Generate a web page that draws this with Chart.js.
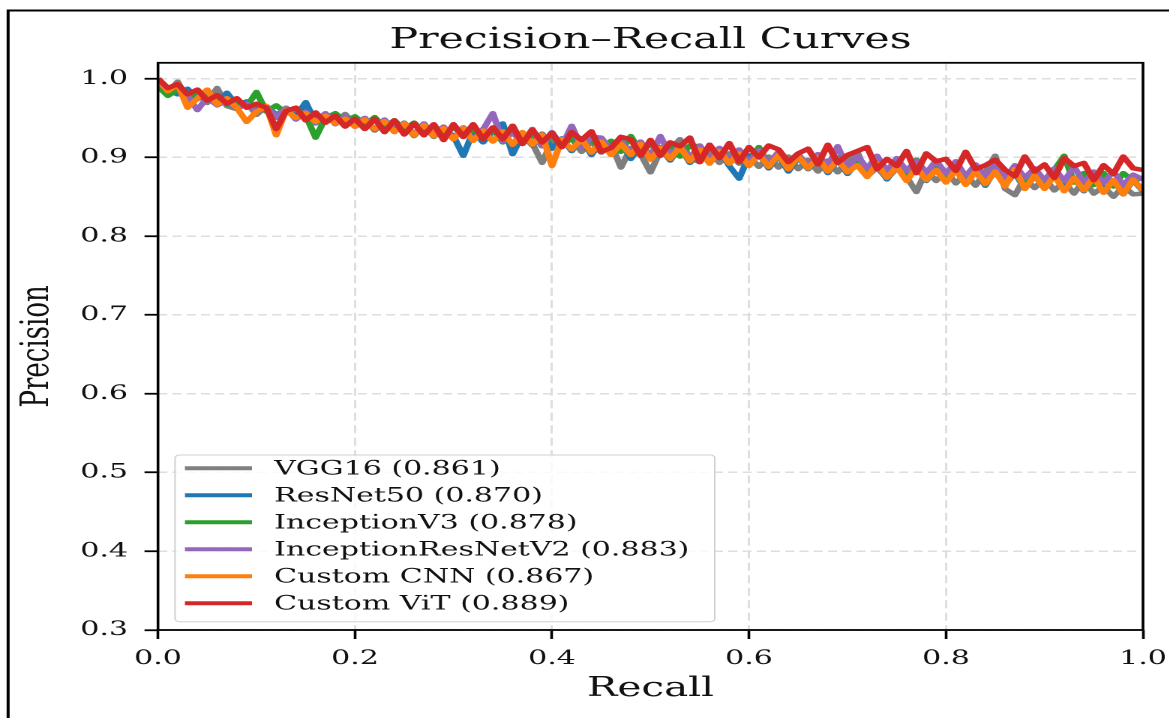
<!DOCTYPE html>
<html>
<head>
<meta charset="utf-8">
<title>Precision–Recall Curves</title>
<script src="https://cdn.jsdelivr.net/npm/chart.js@4.4.1/dist/chart.umd.min.js"></script>
<style>
  html, body { margin: 0; padding: 0; background: #fff; overflow: hidden; }
  /* figure is laid out at 780px and widened 1.5x */
  #wrap { width: 780px; height: 718px; transform: scaleX(1.5); transform-origin: 0 0; }
</style>
</head>
<body>
<div id="wrap"><canvas id="prChart"></canvas></div>
<script>
const SERIF = "'DejaVu Serif', 'Liberation Serif', serif";

const modelNames = ['VGG16', 'ResNet50', 'InceptionV3', 'InceptionResNetV2', 'Custom CNN', 'Custom ViT'];
const apScores = [0.861, 0.870, 0.878, 0.883, 0.867, 0.889];
const lineColors = ['#7f7f7f', '#1f77b4', '#2ca02c', '#9467bd', '#ff7f0e', '#d62728'];

const recallTicks = [0.0, 0.2, 0.4, 0.6, 0.8, 1.0];
const precisionTicks = [0.3, 0.4, 0.5, 0.6, 0.7, 0.8, 0.9, 1.0];

const recall = [
  0.00, 0.01, 0.02, 0.03, 0.04, 0.05, 0.06, 0.07, 0.08, 0.09,
  0.10, 0.11, 0.12, 0.13, 0.14, 0.15, 0.16, 0.17, 0.18, 0.19,
  0.20, 0.21, 0.22, 0.23, 0.24, 0.25, 0.26, 0.27, 0.28, 0.29,
  0.30, 0.31, 0.32, 0.33, 0.34, 0.35, 0.36, 0.37, 0.38, 0.39,
  0.40, 0.41, 0.42, 0.43, 0.44, 0.45, 0.46, 0.47, 0.48, 0.49,
  0.50, 0.51, 0.52, 0.53, 0.54, 0.55, 0.56, 0.57, 0.58, 0.59,
  0.60, 0.61, 0.62, 0.63, 0.64, 0.65, 0.66, 0.67, 0.68, 0.69,
  0.70, 0.71, 0.72, 0.73, 0.74, 0.75, 0.76, 0.77, 0.78, 0.79,
  0.80, 0.81, 0.82, 0.83, 0.84, 0.85, 0.86, 0.87, 0.88, 0.89,
  0.90, 0.91, 0.92, 0.93, 0.94, 0.95, 0.96, 0.97, 0.98, 0.99,
  1.00
];

const vgg16 = [
  1.000, 0.982, 0.996, 0.973, 0.982, 0.969, 0.988, 0.965, 0.961, 0.969,
  0.954, 0.965, 0.950, 0.963, 0.950, 0.960, 0.943, 0.954, 0.943, 0.955,
  0.941, 0.950, 0.934, 0.946, 0.933, 0.943, 0.927, 0.942, 0.926, 0.936,
  0.924, 0.937, 0.922, 0.936, 0.921, 0.930, 0.917, 0.930, 0.918, 0.893,
  0.921, 0.916, 0.924, 0.907, 0.920, 0.906, 0.917, 0.887, 0.912, 0.904,
  0.881, 0.908, 0.910, 0.923, 0.899, 0.894, 0.908, 0.893, 0.905, 0.892,
  0.902, 0.888, 0.901, 0.887, 0.901, 0.885, 0.897, 0.882, 0.896, 0.881,
  0.895, 0.907, 0.876, 0.887, 0.873, 0.886, 0.875, 0.856, 0.884, 0.870,
  0.883, 0.867, 0.879, 0.864, 0.881, 0.902, 0.860, 0.852, 0.874, 0.861,
  0.874, 0.858, 0.869, 0.854, 0.871, 0.854, 0.863, 0.850, 0.863, 0.853,
  0.854
];

const resnet50 = [
  0.997, 0.985, 0.980, 0.987, 0.974, 0.981, 0.969, 0.982, 0.966, 0.971,
  0.960, 0.965, 0.954, 0.961, 0.952, 0.970, 0.944, 0.953, 0.944, 0.951,
  0.939, 0.948, 0.935, 0.946, 0.934, 0.942, 0.928, 0.938, 0.927, 0.936,
  0.927, 0.902, 0.933, 0.919, 0.934, 0.943, 0.904, 0.929, 0.915, 0.930,
  0.911, 0.924, 0.908, 0.924, 0.903, 0.920, 0.904, 0.921, 0.898, 0.915,
  0.898, 0.913, 0.896, 0.913, 0.893, 0.908, 0.893, 0.910, 0.889, 0.873,
  0.902, 0.905, 0.886, 0.902, 0.882, 0.900, 0.885, 0.901, 0.880, 0.897,
  0.879, 0.894, 0.877, 0.895, 0.872, 0.890, 0.875, 0.892, 0.870, 0.885,
  0.869, 0.885, 0.866, 0.883, 0.864, 0.884, 0.865, 0.880, 0.860, 0.878,
  0.861, 0.881, 0.859, 0.874, 0.857, 0.879, 0.856, 0.871, 0.853, 0.871,
  0.857
];

const inceptionV3 = [
  0.990, 0.978, 0.986, 0.976, 0.983, 0.972, 0.978, 0.967, 0.972, 0.964,
  0.983, 0.958, 0.966, 0.956, 0.962, 0.953, 0.925, 0.950, 0.956, 0.946,
  0.952, 0.941, 0.951, 0.938, 0.947, 0.935, 0.944, 0.932, 0.941, 0.928,
  0.939, 0.926, 0.936, 0.923, 0.935, 0.919, 0.940, 0.918, 0.930, 0.914,
  0.928, 0.914, 0.925, 0.912, 0.924, 0.908, 0.921, 0.907, 0.927, 0.907,
  0.917, 0.903, 0.916, 0.901, 0.915, 0.914, 0.898, 0.909, 0.894, 0.908,
  0.893, 0.913, 0.890, 0.904, 0.890, 0.904, 0.887, 0.901, 0.886, 0.900,
  0.886, 0.899, 0.883, 0.899, 0.884, 0.896, 0.880, 0.897, 0.880, 0.892,
  0.877, 0.891, 0.875, 0.889, 0.875, 0.889, 0.871, 0.887, 0.871, 0.884,
  0.869, 0.884, 0.902, 0.868, 0.880, 0.865, 0.880, 0.863, 0.880, 0.870,
  0.874
];

const inceptionResNetV2 = [
  0.995, 0.985, 0.990, 0.978, 0.960, 0.976, 0.966, 0.972, 0.962, 0.968,
  0.958, 0.964, 0.952, 0.962, 0.948, 0.958, 0.944, 0.956, 0.942, 0.952,
  0.939, 0.950, 0.935, 0.948, 0.934, 0.944, 0.929, 0.943, 0.928, 0.939,
  0.923, 0.938, 0.922, 0.935, 0.956, 0.920, 0.932, 0.917, 0.936, 0.914,
  0.932, 0.914, 0.940, 0.912, 0.926, 0.925, 0.909, 0.921, 0.905, 0.920,
  0.901, 0.927, 0.903, 0.915, 0.899, 0.915, 0.898, 0.912, 0.894, 0.910,
  0.893, 0.909, 0.892, 0.907, 0.888, 0.904, 0.888, 0.904, 0.888, 0.914,
  0.886, 0.902, 0.886, 0.902, 0.882, 0.899, 0.883, 0.896, 0.880, 0.896,
  0.879, 0.895, 0.876, 0.891, 0.876, 0.890, 0.873, 0.890, 0.874, 0.886,
  0.871, 0.886, 0.870, 0.888, 0.868, 0.882, 0.868, 0.882, 0.865, 0.878,
  0.872
];

const customCnn = [
  1.000, 0.984, 0.993, 0.963, 0.975, 0.986, 0.967, 0.975, 0.963, 0.945,
  0.958, 0.965, 0.928, 0.960, 0.950, 0.956, 0.945, 0.953, 0.943, 0.949,
  0.939, 0.948, 0.936, 0.946, 0.932, 0.943, 0.928, 0.941, 0.927, 0.937,
  0.923, 0.937, 0.921, 0.934, 0.920, 0.933, 0.916, 0.932, 0.916, 0.929,
  0.889, 0.923, 0.910, 0.923, 0.906, 0.920, 0.903, 0.917, 0.903, 0.917,
  0.897, 0.912, 0.898, 0.913, 0.895, 0.910, 0.892, 0.908, 0.892, 0.905,
  0.889, 0.904, 0.888, 0.903, 0.885, 0.901, 0.886, 0.900, 0.882, 0.897,
  0.881, 0.890, 0.875, 0.892, 0.874, 0.888, 0.870, 0.887, 0.871, 0.884,
  0.868, 0.884, 0.865, 0.882, 0.866, 0.882, 0.863, 0.885, 0.860, 0.877,
  0.860, 0.877, 0.857, 0.874, 0.858, 0.875, 0.855, 0.871, 0.853, 0.872,
  0.858
];

const customVit = [
  1.000, 0.988, 0.993, 0.980, 0.986, 0.972, 0.979, 0.968, 0.975, 0.963,
  0.968, 0.963, 0.936, 0.959, 0.963, 0.947, 0.957, 0.944, 0.953, 0.939,
  0.949, 0.936, 0.949, 0.932, 0.947, 0.929, 0.943, 0.928, 0.942, 0.922,
  0.942, 0.926, 0.942, 0.923, 0.938, 0.923, 0.940, 0.917, 0.935, 0.919,
  0.931, 0.913, 0.932, 0.922, 0.933, 0.907, 0.912, 0.926, 0.923, 0.902,
  0.922, 0.902, 0.919, 0.914, 0.925, 0.894, 0.916, 0.899, 0.918, 0.894,
  0.913, 0.900, 0.915, 0.910, 0.894, 0.905, 0.911, 0.891, 0.916, 0.893,
  0.903, 0.908, 0.913, 0.885, 0.898, 0.889, 0.908, 0.880, 0.905, 0.895,
  0.898, 0.883, 0.907, 0.885, 0.890, 0.897, 0.884, 0.876, 0.901, 0.882,
  0.891, 0.874, 0.899, 0.889, 0.893, 0.871, 0.890, 0.879, 0.901, 0.886,
  0.884
];

const precisionSeries = [vgg16, resnet50, inceptionV3, inceptionResNetV2, customCnn, customVit];

// outer frame, box around the axes, and the legend panel
const figureDecor = {
  id: 'figureDecor',
  beforeDraw(chart) {
    const ctx = chart.ctx;
    ctx.save();
    ctx.fillStyle = '#fff';
    ctx.fillRect(0, 0, chart.width, chart.height);
    ctx.strokeStyle = '#000';
    ctx.lineWidth = 2;
    ctx.strokeRect(5.4, 10.5, chart.width + 40, chart.height + 40);
    ctx.restore();
  },
  afterDatasetsDraw(chart) {
    const ctx = chart.ctx;
    const a = chart.chartArea;
    ctx.save();
    ctx.strokeStyle = '#000';
    ctx.lineWidth = 1.8;
    ctx.strokeRect(a.left, a.top, a.right - a.left, a.bottom - a.top);

    const lx = 116.7, ly = 455, lw = 359.8, lh = 166.7;
    ctx.beginPath();
    ctx.roundRect(lx, ly, lw, lh, 3);
    ctx.fillStyle = 'rgba(255,255,255,0.8)';
    ctx.fill();
    ctx.strokeStyle = '#d0d0d0';
    ctx.lineWidth = 1;
    ctx.stroke();

    ctx.font = '20px ' + SERIF;
    ctx.textBaseline = 'middle';
    chart.data.datasets.forEach((ds, i) => {
      const y = 468.3 + i * 27;
      ctx.beginPath();
      ctx.moveTo(123.3, y);
      ctx.lineTo(168, y);
      ctx.strokeStyle = ds.borderColor;
      ctx.lineWidth = 4;
      ctx.stroke();
      ctx.fillStyle = '#111';
      ctx.fillText(ds.label, 182.7, y + 1);
    });
    ctx.restore();
  }
};

const datasets = modelNames.map((name, i) => ({
  label: name + ' (' + apScores[i].toFixed(3) + ')',
  data: recall.map((r, j) => ({ x: r, y: precisionSeries[i][j] })),
  borderColor: lineColors[i],
  backgroundColor: lineColors[i],
  borderWidth: 4.5,
  borderJoinStyle: 'round',
  pointRadius: 0,
  tension: 0,
  fill: false,
  order: modelNames.length - 1 - i
}));

new Chart(document.getElementById('prChart'), {
  type: 'line',
  data: { datasets },
  plugins: [figureDecor],
  options: {
    responsive: true,
    maintainAspectRatio: false,
    devicePixelRatio: 2,
    animation: false,
    layout: { padding: { left: 0, right: 18, top: 0, bottom: 0 } },
    plugins: {
      legend: { display: false },
      tooltip: { enabled: false },
      title: {
        display: true,
        text: 'Precision–Recall Curves',
        color: '#111',
        fullSize: false,
        font: { family: SERIF, size: 28.5, weight: 'normal' },
        padding: { top: 23.6, bottom: 5 }
      }
    },
    scales: {
      x: {
        type: 'linear',
        min: 0,
        max: 1,
        afterBuildTicks: s => { s.ticks = recallTicks.map(v => ({ value: v })); },
        afterFit: s => { s.height = 88; s.paddingLeft = 0; s.paddingRight = 0; },
        grid: { color: '#dedede', lineWidth: 1.5, drawTicks: true, tickLength: 9, tickColor: '#000', tickWidth: 1.8 },
        border: { display: false, dash: [8, 4.5] },
        ticks: {
          padding: 8,
          color: '#111',
          maxRotation: 0,
          autoSkip: false,
          font: { family: SERIF, size: 20 },
          callback: v => Number(v).toFixed(1)
        },
        title: {
          display: true,
          text: 'Recall',
          color: '#111',
          font: { family: SERIF, size: 27 },
          padding: { top: 0, bottom: 13 }
        }
      },
      y: {
        type: 'linear',
        min: 0.3,
        max: 1.02,
        afterBuildTicks: s => { s.ticks = precisionTicks.map(v => ({ value: v })); },
        afterFit: s => { s.width = 105.33; },
        grid: { color: '#dedede', lineWidth: 1.5, drawTicks: true, tickLength: 9, tickColor: '#000', tickWidth: 1.8 },
        border: { display: false, dash: [6, 3.5] },
        ticks: {
          padding: 11,
          color: '#111',
          font: { family: SERIF, size: 20 },
          callback: v => Number(v).toFixed(1)
        },
        title: {
          display: true,
          text: 'Precision',
          color: '#111',
          font: { family: SERIF, size: 26 },
          padding: { top: 9.5, bottom: 0 }
        }
      }
    }
  }
});
</script>
</body>
</html>
